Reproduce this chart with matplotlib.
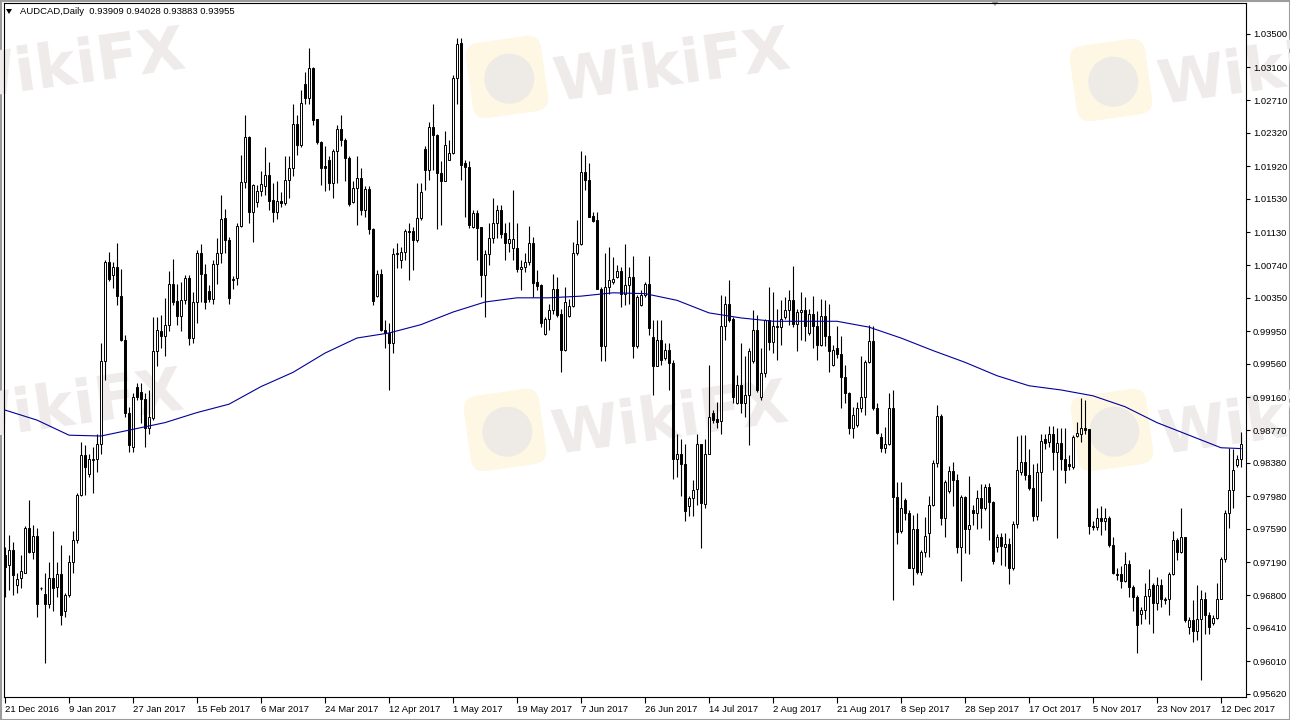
import matplotlib
matplotlib.use("Agg")
import matplotlib.pyplot as plt
import numpy as np
from matplotlib.patches import FancyBboxPatch, Polygon, Rectangle, Circle
from matplotlib.transforms import Affine2D

# AUDCAD daily bars, 21 Dec 2016 .. mid Dec 2017
opens = [
    0.9728, 0.9716, 0.9734, 0.9692, 0.9700, 0.9707, 0.9760, 0.9732, 0.9751, 0.9688,
    0.9681, 0.9670, 0.9701, 0.9690, 0.9705, 0.9661, 0.9680, 0.9720, 0.9746, 0.9800,
    0.9847, 0.9825, 0.9841, 0.9843, 0.9861, 0.9959, 1.0078, 1.0062, 1.0072, 1.0037,
    0.9985, 0.9897, 0.9857, 0.9928, 0.9922, 0.9914, 0.9879, 0.9891, 0.9971, 0.9995,
    0.9990, 1.0002, 1.0051, 1.0031, 1.0013, 1.0032, 1.0059, 0.9987, 1.0030, 1.0089,
    1.0063, 1.0043, 1.0033, 1.0075, 1.0089, 1.0130, 1.0104, 1.0056, 1.0059, 1.0121,
    1.0173, 1.0227, 1.0137, 1.0150, 1.0162, 1.0169, 1.0182, 1.0152, 1.0138, 1.0151,
    1.0148, 1.0176, 1.0190, 1.0243, 1.0217, 1.0290, 1.0274, 1.0309, 1.0248, 1.0221,
    1.0192, 1.0200, 1.0172, 1.0210, 1.0237, 1.0224, 1.0202, 1.0149, 1.0166, 1.0178,
    1.0140, 1.0165, 1.0117, 1.0037, 1.0063, 0.9997, 0.9993, 0.9981, 1.0087, 1.0080,
    1.0090, 1.0115, 1.0115, 1.0104, 1.0130, 1.0213, 1.0188, 1.0239, 1.0229, 1.0184,
    1.0175, 1.0200, 1.0208, 1.0297, 1.0339, 1.0196, 1.0191, 1.0119, 1.0136, 1.0119,
    1.0062, 1.0087, 1.0106, 1.0124, 1.0140, 1.0112, 1.0101, 1.0094, 1.0094, 1.0069,
    1.0072, 1.0078, 1.0100, 1.0054, 1.0050, 0.9992, 1.0010, 1.0021, 1.0045, 1.0016,
    0.9973, 1.0013, 1.0025, 1.0088, 1.0099, 1.0185, 1.0176, 1.0133, 1.0128, 1.0046,
    0.9977, 1.0048, 1.0054, 1.0060, 1.0067, 1.0040, 1.0050, 1.0060, 0.9977, 1.0026,
    1.0038, 1.0052, 0.9988, 0.9954, 0.9985, 0.9963, 0.9973, 0.9957, 0.9843, 0.9848,
    0.9837, 0.9786, 0.9796, 0.9807, 0.9860, 0.9789, 0.9849, 0.9897, 0.9890, 0.9888,
    1.0001, 1.0028, 1.0010, 0.9909, 0.9931, 0.9910, 0.9919, 0.9959, 0.9997, 0.9917,
    0.9945, 1.0008, 0.9982, 1.0000, 1.0000, 1.0012, 1.0021, 1.0032, 1.0004, 1.0018,
    1.0021, 0.9993, 1.0016, 1.0001, 0.9979, 1.0013, 0.9989, 0.9955, 0.9975, 0.9968,
    0.9940, 0.9921, 0.9880, 0.9883, 0.9904, 0.9916, 0.9958, 0.9983, 0.9904, 0.9869,
    0.9856, 0.9861, 0.9903, 0.9797, 0.9756, 0.9794, 0.9778, 0.9713, 0.9759, 0.9708,
    0.9732, 0.9754, 0.9788, 0.9838, 0.9894, 0.9772, 0.9804, 0.9828, 0.9817, 0.9737,
    0.9797, 0.9759, 0.9782, 0.9778, 0.9796, 0.9784, 0.9809, 0.9791, 0.9737, 0.9750,
    0.9738, 0.9741, 0.9713, 0.9765, 0.9827, 0.9839, 0.9823, 0.9808, 0.9775, 0.9827,
    0.9866, 0.9863, 0.9873, 0.9851, 0.9862, 0.9843, 0.9837, 0.9833, 0.9870, 0.9873,
    0.9880, 0.9878, 0.9762, 0.9761, 0.9772, 0.9768, 0.9772, 0.9740, 0.9705, 0.9705,
    0.9697, 0.9717, 0.9690, 0.9678, 0.9658, 0.9662, 0.9679, 0.9692, 0.9671, 0.9692,
    0.9674, 0.9676, 0.9705, 0.9746, 0.9732, 0.9749, 0.9642, 0.9650, 0.9637, 0.9652,
    0.9675, 0.9656, 0.9647, 0.9653, 0.9676, 0.9723, 0.9778, 0.9806, 0.9835, 0.9843,
]
highs = [
    0.9738, 0.9752, 0.9744, 0.9706, 0.9728, 0.9762, 0.9794, 0.9764, 0.9760, 0.9690,
    0.9706, 0.9720, 0.9756, 0.9720, 0.9740, 0.9683, 0.9728, 0.9756, 0.9802, 0.9863,
    0.9859, 0.9849, 0.9857, 0.9873, 0.9981, 1.0080, 1.0090, 1.0078, 1.0100, 1.0070,
    0.9991, 0.9905, 0.9921, 0.9933, 0.9933, 0.9921, 0.9925, 1.0012, 1.0012, 1.0015,
    1.0035, 1.0067, 1.0081, 1.0051, 1.0054, 1.0062, 1.0062, 1.0042, 1.0092, 1.0099,
    1.0075, 1.0050, 1.0080, 1.0106, 1.0158, 1.0141, 1.0108, 1.0061, 1.0124, 1.0205,
    1.0253, 1.0228, 1.0171, 1.0170, 1.0186, 1.0215, 1.0197, 1.0172, 1.0174, 1.0161,
    1.0204, 1.0204, 1.0267, 1.0253, 1.0283, 1.0305, 1.0333, 1.0311, 1.0249, 1.0222,
    1.0216, 1.0204, 1.0213, 1.0241, 1.0253, 1.0226, 1.0204, 1.0174, 1.0204, 1.0190,
    1.0168, 1.0168, 1.0118, 1.0068, 1.0069, 1.0009, 1.0005, 1.0094, 1.0100, 1.0096,
    1.0117, 1.0124, 1.0120, 1.0172, 1.0172, 1.0216, 1.0245, 1.0267, 1.0231, 1.0198,
    1.0234, 1.0223, 1.0301, 1.0345, 1.0345, 1.0200, 1.0198, 1.0140, 1.0140, 1.0120,
    1.0092, 1.0124, 1.0154, 1.0146, 1.0146, 1.0124, 1.0126, 1.0164, 1.0124, 1.0080,
    1.0088, 1.0121, 1.0108, 1.0068, 1.0052, 1.0012, 1.0028, 1.0064, 1.0060, 1.0022,
    1.0048, 1.0034, 1.0102, 1.0128, 1.0210, 1.0206, 1.0196, 1.0138, 1.0138, 1.0048,
    1.0089, 1.0096, 1.0084, 1.0074, 1.0072, 1.0099, 1.0072, 1.0085, 1.0038, 1.0044,
    1.0054, 1.0085, 1.0008, 1.0008, 1.0008, 0.9981, 0.9981, 0.9961, 0.9873, 0.9867,
    0.9861, 0.9798, 0.9817, 0.9873, 0.9861, 0.9867, 0.9955, 0.9901, 0.9911, 1.0038,
    1.0037, 1.0056, 1.0012, 0.9943, 0.9981, 0.9965, 0.9975, 1.0020, 1.0014, 0.9975,
    1.0010, 1.0048, 1.0042, 1.0022, 1.0032, 1.0036, 1.0044, 1.0073, 1.0022, 1.0042,
    1.0036, 1.0022, 1.0037, 1.0019, 1.0034, 1.0032, 1.0028, 0.9979, 1.0001, 0.9989,
    0.9955, 0.9923, 0.9905, 0.9911, 0.9965, 0.9961, 1.0003, 1.0001, 0.9910, 0.9874,
    0.9881, 0.9921, 0.9925, 0.9815, 0.9815, 0.9796, 0.9782, 0.9776, 0.9778, 0.9734,
    0.9773, 0.9798, 0.9841, 0.9907, 0.9896, 0.9817, 0.9834, 0.9839, 0.9825, 0.9800,
    0.9798, 0.9822, 0.9788, 0.9806, 0.9813, 0.9813, 0.9814, 0.9792, 0.9753, 0.9754,
    0.9754, 0.9748, 0.9768, 0.9870, 0.9871, 0.9871, 0.9854, 0.9837, 0.9838, 0.9873,
    0.9873, 0.9882, 0.9882, 0.9879, 0.9879, 0.9879, 0.9847, 0.9871, 0.9887, 0.9915,
    0.9913, 0.9878, 0.9768, 0.9784, 0.9786, 0.9784, 0.9774, 0.9750, 0.9712, 0.9715,
    0.9731, 0.9722, 0.9692, 0.9680, 0.9666, 0.9695, 0.9711, 0.9694, 0.9702, 0.9699,
    0.9678, 0.9708, 0.9756, 0.9748, 0.9784, 0.9750, 0.9654, 0.9674, 0.9692, 0.9686,
    0.9684, 0.9660, 0.9656, 0.9694, 0.9726, 0.9782, 0.9856, 0.9855, 0.9847, 0.9875,
]
lows = [
    0.9678, 0.9686, 0.9680, 0.9683, 0.9688, 0.9706, 0.9730, 0.9723, 0.9654, 0.9686,
    0.9599, 0.9665, 0.9661, 0.9678, 0.9644, 0.9654, 0.9678, 0.9706, 0.9742, 0.9798,
    0.9800, 0.9821, 0.9802, 0.9827, 0.9849, 0.9937, 1.0055, 1.0047, 1.0027, 0.9983,
    0.9893, 0.9851, 0.9851, 0.9913, 0.9885, 0.9857, 0.9873, 0.9889, 0.9953, 0.9975,
    0.9965, 0.9995, 1.0026, 1.0003, 0.9995, 1.0028, 0.9979, 0.9981, 1.0005, 1.0030,
    1.0022, 1.0030, 1.0028, 1.0052, 1.0077, 1.0088, 1.0028, 1.0046, 1.0050, 1.0120,
    1.0166, 1.0124, 1.0102, 1.0144, 1.0157, 1.0158, 1.0140, 1.0126, 1.0129, 1.0143,
    1.0146, 1.0154, 1.0180, 1.0205, 1.0215, 1.0267, 1.0267, 1.0241, 1.0219, 1.0170,
    1.0162, 1.0164, 1.0154, 1.0172, 1.0216, 1.0174, 1.0145, 1.0148, 1.0122, 1.0134,
    1.0132, 1.0111, 1.0026, 1.0036, 0.9995, 0.9975, 0.9925, 0.9969, 1.0071, 1.0071,
    1.0080, 1.0056, 1.0068, 1.0102, 1.0128, 1.0164, 1.0176, 1.0188, 1.0117, 1.0122,
    1.0174, 1.0199, 1.0207, 1.0266, 1.0176, 1.0132, 1.0118, 1.0118, 1.0080, 1.0036,
    1.0012, 1.0074, 1.0100, 1.0106, 1.0107, 1.0080, 1.0090, 1.0080, 1.0066, 1.0044,
    1.0066, 1.0074, 1.0036, 1.0044, 1.0000, 0.9991, 0.9997, 1.0016, 1.0012, 0.9947,
    0.9971, 1.0012, 1.0024, 1.0086, 1.0098, 1.0164, 1.0131, 1.0126, 1.0045, 0.9959,
    0.9959, 1.0040, 1.0052, 1.0059, 1.0024, 1.0026, 1.0028, 0.9963, 0.9975, 1.0025,
    1.0036, 0.9991, 0.9919, 0.9953, 0.9955, 0.9961, 0.9925, 0.9819, 0.9821, 0.9798,
    0.9768, 0.9774, 0.9774, 0.9788, 0.9736, 0.9784, 0.9848, 0.9885, 0.9879, 0.9873,
    0.9985, 1.0006, 0.9910, 0.9908, 0.9897, 0.9893, 0.9859, 0.9957, 0.9923, 0.9913,
    0.9941, 0.9973, 0.9969, 0.9961, 0.9979, 1.0010, 1.0002, 1.0000, 0.9971, 0.9985,
    0.9983, 0.9991, 0.9975, 0.9961, 0.9977, 0.9977, 0.9947, 0.9953, 0.9963, 0.9903,
    0.9909, 0.9873, 0.9868, 0.9881, 0.9899, 0.9895, 0.9957, 0.9901, 0.9873, 0.9851,
    0.9850, 0.9859, 0.9674, 0.9741, 0.9754, 0.9770, 0.9712, 0.9692, 0.9705, 0.9704,
    0.9726, 0.9726, 0.9786, 0.9833, 0.9764, 0.9750, 0.9802, 0.9787, 0.9730, 0.9697,
    0.9730, 0.9729, 0.9764, 0.9759, 0.9760, 0.9782, 0.9746, 0.9717, 0.9732, 0.9716,
    0.9715, 0.9693, 0.9710, 0.9760, 0.9823, 0.9817, 0.9806, 0.9768, 0.9770, 0.9792,
    0.9855, 0.9857, 0.9829, 0.9748, 0.9829, 0.9814, 0.9829, 0.9831, 0.9869, 0.9863,
    0.9873, 0.9753, 0.9758, 0.9758, 0.9752, 0.9758, 0.9738, 0.9705, 0.9698, 0.9688,
    0.9696, 0.9678, 0.9661, 0.9611, 0.9646, 0.9651, 0.9646, 0.9635, 0.9662, 0.9666,
    0.9670, 0.9656, 0.9704, 0.9722, 0.9730, 0.9648, 0.9634, 0.9624, 0.9626, 0.9579,
    0.9634, 0.9634, 0.9644, 0.9652, 0.9675, 0.9720, 0.9760, 0.9784, 0.9833, 0.9833,
]
closes = [
    0.9714, 0.9734, 0.9704, 0.9699, 0.9709, 0.9760, 0.9732, 0.9751, 0.9669, 0.9688,
    0.9670, 0.9701, 0.9689, 0.9705, 0.9656, 0.9680, 0.9720, 0.9746, 0.9800, 0.9847,
    0.9833, 0.9842, 0.9843, 0.9861, 0.9959, 1.0078, 1.0057, 1.0072, 1.0037, 0.9985,
    0.9897, 0.9859, 0.9917, 0.9917, 0.9914, 0.9879, 0.9893, 0.9971, 0.9997, 0.9990,
    1.0003, 1.0051, 1.0030, 1.0013, 1.0032, 1.0059, 0.9987, 1.0030, 1.0089, 1.0063,
    1.0030, 1.0033, 1.0075, 1.0089, 1.0129, 1.0104, 1.0035, 1.0058, 1.0121, 1.0173,
    1.0227, 1.0137, 1.0170, 1.0162, 1.0171, 1.0182, 1.0151, 1.0138, 1.0151, 1.0148,
    1.0176, 1.0190, 1.0243, 1.0217, 1.0268, 1.0274, 1.0309, 1.0247, 1.0221, 1.0190,
    1.0190, 1.0172, 1.0210, 1.0237, 1.0224, 1.0202, 1.0147, 1.0166, 1.0178, 1.0140,
    1.0165, 1.0117, 1.0031, 1.0063, 0.9997, 0.9993, 0.9981, 1.0087, 1.0088, 1.0090,
    1.0115, 1.0113, 1.0104, 1.0130, 1.0161, 1.0188, 1.0239, 1.0229, 1.0184, 1.0175,
    1.0218, 1.0208, 1.0297, 1.0338, 1.0194, 1.0191, 1.0122, 1.0136, 1.0118, 1.0062,
    1.0087, 1.0106, 1.0124, 1.0140, 1.0111, 1.0101, 1.0105, 1.0105, 1.0070, 1.0072,
    1.0078, 1.0100, 1.0053, 1.0049, 1.0005, 1.0010, 1.0021, 1.0045, 1.0014, 0.9973,
    1.0030, 1.0025, 1.0088, 1.0099, 1.0185, 1.0176, 1.0132, 1.0127, 1.0046, 0.9977,
    1.0048, 1.0056, 1.0057, 1.0067, 1.0040, 1.0050, 1.0060, 0.9977, 1.0036, 1.0038,
    1.0052, 0.9999, 0.9954, 0.9985, 0.9961, 0.9973, 0.9957, 0.9842, 0.9848, 0.9837,
    0.9780, 0.9796, 0.9806, 0.9860, 0.9790, 0.9849, 0.9893, 0.9889, 0.9887, 1.0001,
    1.0028, 1.0008, 0.9917, 0.9931, 0.9910, 0.9919, 0.9971, 0.9997, 0.9925, 0.9945,
    1.0008, 0.9982, 1.0001, 1.0001, 1.0010, 1.0021, 1.0032, 1.0004, 1.0018, 1.0021,
    1.0001, 1.0016, 1.0001, 0.9979, 1.0013, 0.9989, 0.9972, 0.9973, 0.9968, 0.9940,
    0.9921, 0.9880, 0.9895, 0.9904, 0.9916, 0.9958, 0.9983, 0.9903, 0.9874, 0.9856,
    0.9861, 0.9903, 0.9797, 0.9755, 0.9784, 0.9778, 0.9713, 0.9759, 0.9708, 0.9732,
    0.9751, 0.9788, 0.9838, 0.9894, 0.9772, 0.9815, 0.9828, 0.9817, 0.9737, 0.9797,
    0.9759, 0.9764, 0.9778, 0.9796, 0.9784, 0.9809, 0.9791, 0.9721, 0.9750, 0.9739,
    0.9741, 0.9713, 0.9765, 0.9829, 0.9839, 0.9823, 0.9808, 0.9775, 0.9827, 0.9864,
    0.9862, 0.9873, 0.9851, 0.9862, 0.9843, 0.9829, 0.9834, 0.9869, 0.9874, 0.9880,
    0.9877, 0.9762, 0.9761, 0.9772, 0.9768, 0.9772, 0.9740, 0.9707, 0.9704, 0.9697,
    0.9717, 0.9690, 0.9678, 0.9644, 0.9662, 0.9679, 0.9687, 0.9671, 0.9692, 0.9675,
    0.9676, 0.9705, 0.9746, 0.9732, 0.9749, 0.9650, 0.9650, 0.9637, 0.9652, 0.9675,
    0.9656, 0.9642, 0.9653, 0.9676, 0.9723, 0.9778, 0.9806, 0.9829, 0.9843, 0.9860,
]

# blue moving average, read every 8 bars
ma_bar = [0, 8, 16, 24, 32, 40, 48, 56, 64, 72, 80, 88, 96, 104, 112, 120, 128, 136,
          144, 152, 160, 168, 176, 184, 192, 200, 208, 216, 224, 232, 240, 248, 256,
          264, 272, 280, 288, 296, 304, 309]
ma_val = [0.9901, 0.9889, 0.9871, 0.9870, 0.9878, 0.9886, 0.9898, 0.9908, 0.9929, 0.9946,
          0.9969, 0.9987, 0.9993, 1.0003, 1.0018, 1.0030, 1.0035, 1.0035, 1.0037, 1.0041,
          1.0040, 1.0032, 1.0017, 1.0011, 1.0007, 1.0007, 1.0007, 1.0000, 0.9987, 0.9972,
          0.9958, 0.9942, 0.9930, 0.9925, 0.9918, 0.9905, 0.9886, 0.9871, 0.9856, 0.9855]

date_labels = ['21 Dec 2016', '9 Jan 2017', '27 Jan 2017', '15 Feb 2017', '6 Mar 2017',
               '24 Mar 2017', '12 Apr 2017', '1 May 2017', '19 May 2017', '7 Jun 2017',
               '26 Jun 2017', '14 Jul 2017', '2 Aug 2017', '21 Aug 2017', '8 Sep 2017',
               '28 Sep 2017', '17 Oct 2017', '5 Nov 2017', '23 Nov 2017', '12 Dec 2017']
price_labels = ['1.03500', '1.03100', '1.02710', '1.02320', '1.01920', '1.01530', '1.01130',
                '1.00740', '1.00350', '0.99950', '0.99560', '0.99160', '0.98770', '0.98380',
                '0.97980', '0.97590', '0.97190', '0.96800', '0.96410', '0.96010', '0.95620']
header = "AUDCAD,Daily  0.93909 0.94028 0.93883 0.93955"

plt.rcParams['font.family'] = ['Liberation Sans', 'DejaVu Sans']

W, H = 1290, 720
fig = plt.figure(figsize=(W / 100, H / 100), dpi=100, facecolor='white')

# background layer in pixel coords: window frame + watermark
bg = fig.add_axes([0, 0, 1, 1], zorder=0)
bg.set_xlim(0, W)
bg.set_ylim(H, 0)
bg.axis('off')

# watermark tiles (logo centre), slightly tilted
tilt = 8
for lx, ly in [(-98, 77), (507, 77), (1111, 80), (-100, 418), (505, 430), (1112, 430)]:
    rot = Affine2D().rotate_deg_around(lx, ly, -tilt) + bg.transData
    bg.add_patch(FancyBboxPatch((lx - 38, ly - 38), 76, 76,
                                boxstyle='round,pad=0,rounding_size=14',
                                fc='#fef7e3', ec='none', transform=rot))
    bg.add_patch(Circle((lx + 2, ly + 2), 25, fc='#eeeae6', ec='none', transform=rot))
    bg.text(lx + 165, ly - 9, 'WikiFX', fontsize=44, fontweight='bold', color='#efebeb',
            family='DejaVu Sans', ha='center', va='center', rotation=tilt,
            rotation_mode='anchor')

bg.add_patch(Rectangle((0.5, 0.5), W - 1, H - 1, fill=False, ec='#9c9c9c', lw=1.5))
bg.add_patch(Polygon([[990, 0], [1000, 0], [995, 6]], closed=True, fc='#9c9c9c', ec='none'))
bg.add_patch(Polygon([[6, 9], [12, 9], [9, 14]], closed=True, fc='black', ec='none'))
bg.text(20, 12, header, fontsize=6.8, va='center', ha='left', color='black')

# main chart
ax = fig.add_axes([4 / W, 1 - 697 / H, 1242 / W, 694 / H], zorder=1)
ax.patch.set_alpha(0)

o = np.array(opens)
h = np.array(highs)
l = np.array(lows)
c = np.array(closes)
n = len(c)
x = np.arange(n)
up = c >= o
body = np.maximum(np.abs(c - o), 0.00005)
base = np.minimum(o, c)

ax.vlines(x, l, h, color='black', lw=0.8, zorder=2)
ax.bar(x[up], body[up], 0.55, base[up], facecolor='white', edgecolor='black', lw=0.7, zorder=3)
ax.bar(x[~up], body[~up], 0.55, base[~up], facecolor='black', edgecolor='black', lw=0.7, zorder=3)
ax.plot(ma_bar, ma_val, color='#00009c', lw=0.8, zorder=4)

ax.set_xlim(-0.25, n + 0.25)
ax.set_ylim(0.95584, 1.03870)

ax.yaxis.tick_right()
ax.set_yticks([float(p) for p in price_labels])
ax.set_yticklabels(price_labels)
ax.set_xticks(np.arange(len(date_labels)) * 16)
ax.set_xticklabels(date_labels, ha='left')
ax.tick_params(axis='y', direction='out', length=3, width=0.8, pad=2, labelsize=6.8)
ax.tick_params(axis='x', direction='out', length=4, width=0.8, pad=1.5, labelsize=6.8)
for s in ax.spines.values():
    s.set_color('black')
    s.set_linewidth(0.8)

fig.savefig('out.png', dpi=100, facecolor='white')
